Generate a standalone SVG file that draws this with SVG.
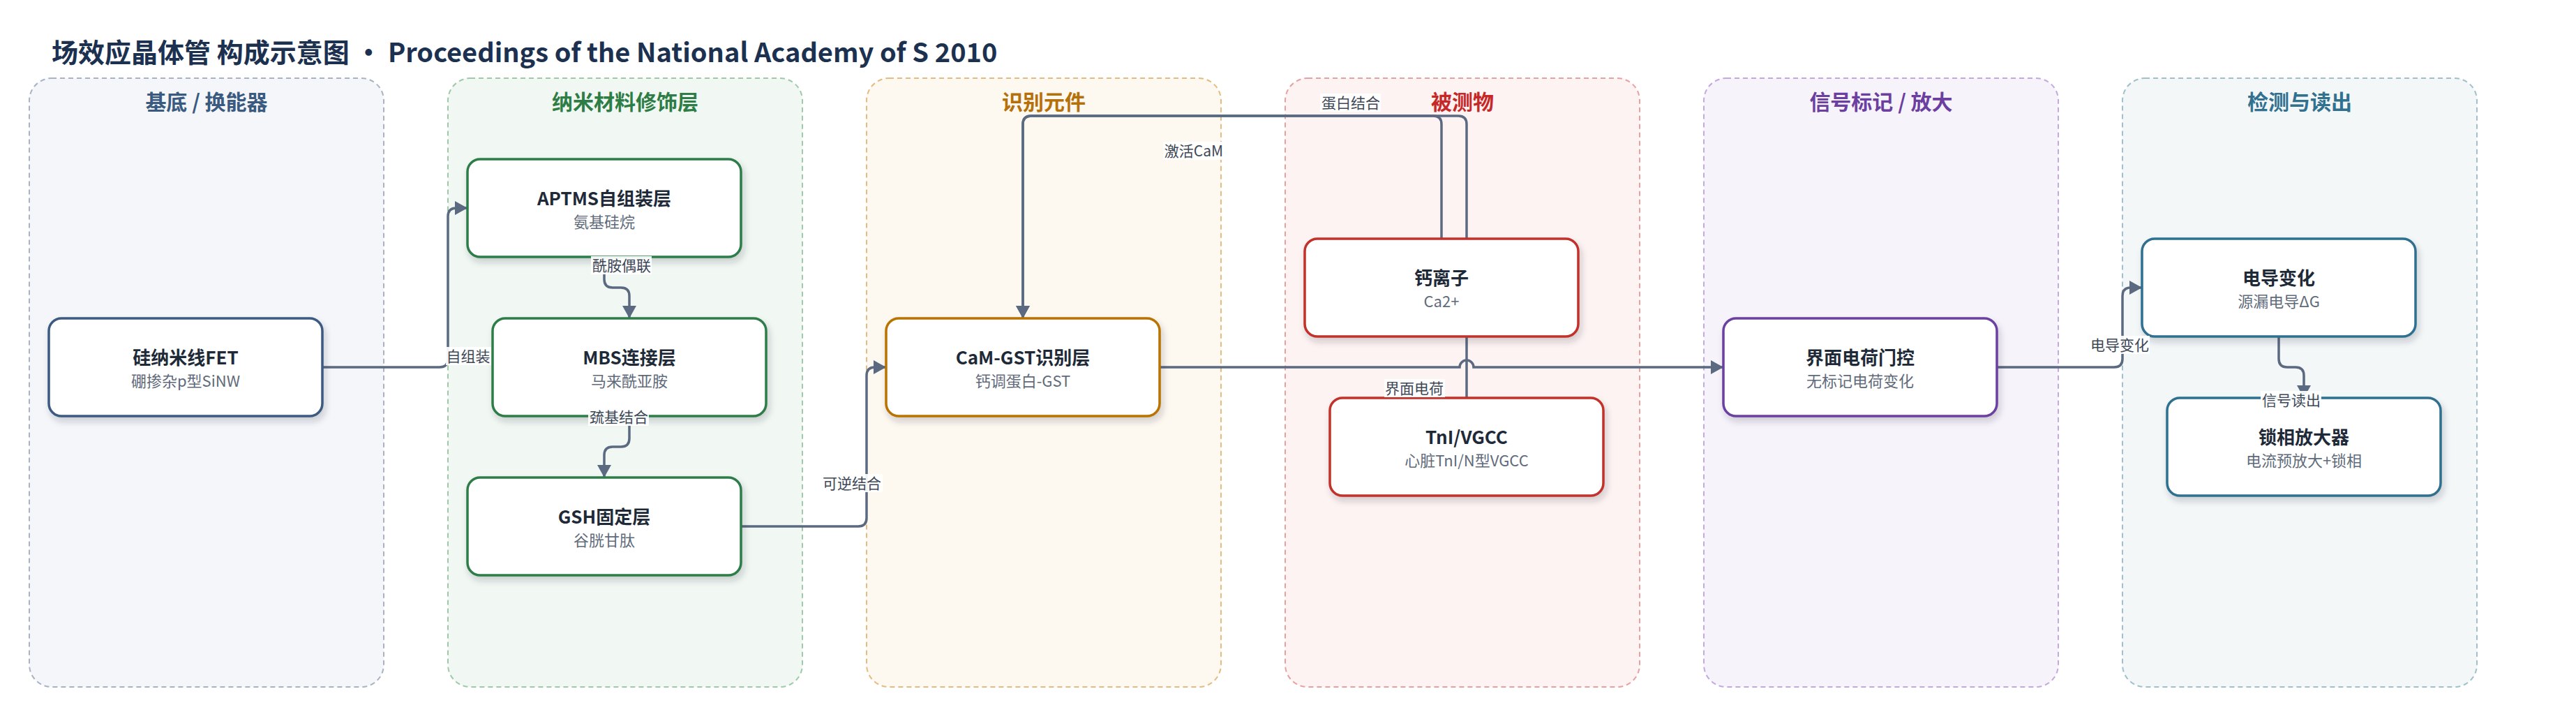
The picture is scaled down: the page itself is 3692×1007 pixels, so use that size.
<svg xmlns="http://www.w3.org/2000/svg" width="3692" height="1007" viewBox="0 0 3692 1007">
<style>
  text { font-family: "Noto Sans CJK SC", "Noto Sans", sans-serif; }
  .title { font-size: 38px; font-weight: 700; fill: #1c3150; }
  .lane { stroke-width: 2; stroke-dasharray: 7 5; }
  .lt { font-size: 30px; font-weight: 700; text-anchor: middle; }
  .node rect { fill: #ffffff; stroke-width: 3.5; filter: url(#sh); }
  .nt { font-size: 26px; font-weight: 700; fill: #1e2a38; text-anchor: middle; }
  .ns { font-size: 22px; fill: #5f6b7a; text-anchor: middle; }
  .edge { fill: none; stroke: #5b6a80; stroke-width: 3.5; }
  .arr { marker-end: url(#ah); }
  .lbg { fill: #ffffff; fill-opacity: 0.92; }
  .lbl { font-size: 21px; fill: #3d4756; text-anchor: middle; }
</style>
<defs>
  <filter id="sh" x="-10%" y="-15%" width="125%" height="140%">
    <feDropShadow dx="3" dy="6" stdDeviation="5" flood-color="#1e2a38" flood-opacity="0.2"/>
  </filter>
  <marker id="ah" markerUnits="userSpaceOnUse" markerWidth="20" markerHeight="22" refX="18" refY="10" orient="auto">
    <path d="M0,0 L18,10 L0,20 z" fill="#5b6a80"/>
  </marker>
</defs>
<rect width="3692" height="1007" fill="#ffffff"/>
<text class="title" x="74" y="89">场效应晶体管 构成示意图 · Proceedings of the National Academy of S 2010</text>

<g id="lanes">
  <g id="lane-substrate">
    <rect class="lane" x="42" y="112" width="508" height="872" rx="32" fill="#f4f6fa" stroke="#a8b4c4"/>
    <text class="lt" x="296" y="157" fill="#3a5a80">基底 / 换能器</text>
  </g>
  <g id="lane-nano">
    <rect class="lane" x="642" y="112" width="508" height="872" rx="32" fill="#f1f8f3" stroke="#9fcaa9"/>
    <text class="lt" x="896" y="157" fill="#2e7d46">纳米材料修饰层</text>
  </g>
  <g id="lane-recog">
    <rect class="lane" x="1242" y="112" width="508" height="872" rx="32" fill="#fdf8f0" stroke="#e4bb80"/>
    <text class="lt" x="1496" y="157" fill="#b5700a">识别元件</text>
  </g>
  <g id="lane-analyte">
    <rect class="lane" x="1842" y="112" width="508" height="872" rx="32" fill="#fdf3f2" stroke="#e7a2a0"/>
    <text class="lt" x="2096" y="157" fill="#c62828">被测物</text>
  </g>
  <g id="lane-signal">
    <rect class="lane" x="2442" y="112" width="508" height="872" rx="32" fill="#f7f3fb" stroke="#c4a8e0"/>
    <text class="lt" x="2696" y="157" fill="#6b3fa0">信号标记 / 放大</text>
  </g>
  <g id="lane-detect">
    <rect class="lane" x="3042" y="112" width="508" height="872" rx="32" fill="#f3f7f8" stroke="#9fc0cc"/>
    <text class="lt" x="3296" y="157" fill="#31718f">检测与读出</text>
  </g>
</g>

<g id="connectors">
  <path class="edge arr" d="M462,526 H630 Q642,526 642,514 V310 Q642,298 654,298 H670"/>
  <path class="edge arr" d="M866,368 V400 Q866,412 878,412 H890 Q902,412 902,424 V456"/>
  <path class="edge arr" d="M902,596 V628 Q902,640 890,640 H878 Q866,640 866,652 V684"/>
  <path class="edge arr" d="M1062,754 H1230 Q1242,754 1242,742 V538 Q1242,526 1254,526 H1270"/>
  <path class="edge arr" d="M2066,342 V178 Q2066,166 2054,166 H1478 Q1466,166 1466,178 V456"/>
  <path class="edge arr" d="M2102,570 V178 Q2102,166 2090,166 H1478 Q1466,166 1466,178 V456"/>
  <path class="edge arr" d="M1662,526 H2092 A10,10 0 0 1 2112,526 H2470"/>
  <path class="edge arr" d="M2862,526 H3030 Q3042,526 3042,514 V424 Q3042,412 3054,412 H3070"/>
  <path class="edge arr" d="M3266,482 V514 Q3266,526 3278,526 H3290 Q3302,526 3302,538 V570"/>
</g>

<g id="nodes">
  <g id="n-fet" class="node">
    <rect x="70" y="456" width="392" height="140" rx="18" stroke="#3d5a80"/>
    <text class="nt" x="266" y="522">硅纳米线FET</text>
    <text class="ns" x="266" y="554">硼掺杂p型SiNW</text>
  </g>
  <g id="n-aptms" class="node">
    <rect x="670" y="228" width="392" height="140" rx="18" stroke="#2e7d4a"/>
    <text class="nt" x="866" y="294">APTMS自组装层</text>
    <text class="ns" x="866" y="326">氨基硅烷</text>
  </g>
  <g id="n-mbs" class="node">
    <rect x="706" y="456" width="392" height="140" rx="18" stroke="#2e7d4a"/>
    <text class="nt" x="902" y="522">MBS连接层</text>
    <text class="ns" x="902" y="554">马来酰亚胺</text>
  </g>
  <g id="n-gsh" class="node">
    <rect x="670" y="684" width="392" height="140" rx="18" stroke="#2e7d4a"/>
    <text class="nt" x="866" y="750">GSH固定层</text>
    <text class="ns" x="866" y="782">谷胱甘肽</text>
  </g>
  <g id="n-cam" class="node">
    <rect x="1270" y="456" width="392" height="140" rx="18" stroke="#b87300"/>
    <text class="nt" x="1466" y="522">CaM-GST识别层</text>
    <text class="ns" x="1466" y="554">钙调蛋白-GST</text>
  </g>
  <g id="n-ca" class="node">
    <rect x="1870" y="342" width="392" height="140" rx="18" stroke="#c0302a"/>
    <text class="nt" x="2066" y="408">钙离子</text>
    <text class="ns" x="2066" y="440">Ca2+</text>
  </g>
  <g id="n-tni" class="node">
    <rect x="1906" y="570" width="392" height="140" rx="18" stroke="#c0302a"/>
    <text class="nt" x="2102" y="636">TnI/VGCC</text>
    <text class="ns" x="2102" y="668">心脏TnI/N型VGCC</text>
  </g>
  <g id="n-gate" class="node">
    <rect x="2470" y="456" width="392" height="140" rx="18" stroke="#6b3fa0"/>
    <text class="nt" x="2666" y="522">界面电荷门控</text>
    <text class="ns" x="2666" y="554">无标记电荷变化</text>
  </g>
  <g id="n-cond" class="node">
    <rect x="3070" y="342" width="392" height="140" rx="18" stroke="#2f6f8f"/>
    <text class="nt" x="3266" y="408">电导变化</text>
    <text class="ns" x="3266" y="440">源漏电导ΔG</text>
  </g>
  <g id="n-lockin" class="node">
    <rect x="3106" y="570" width="392" height="140" rx="18" stroke="#2f6f8f"/>
    <text class="nt" x="3302" y="636">锁相放大器</text>
    <text class="ns" x="3302" y="668">电流预放大+锁相</text>
  </g>
</g>

<g id="edge-labels">
  <rect class="lbg" x="639" y="497" width="65" height="26"/>
  <text class="lbl" x="671" y="518">自组装</text>
  <rect class="lbg" x="847" y="367" width="87" height="26"/>
  <text class="lbl" x="891" y="388">酰胺偶联</text>
  <rect class="lbg" x="843" y="584" width="87" height="26"/>
  <text class="lbl" x="887" y="605">巯基结合</text>
  <rect class="lbg" x="1178" y="679" width="87" height="26"/>
  <text class="lbl" x="1221" y="700">可逆结合</text>
  <rect class="lbg" x="1667" y="203" width="88" height="26"/>
  <text class="lbl" x="1711" y="224">激活CaM</text>
  <rect class="lbg" x="1892" y="134" width="87" height="26"/>
  <text class="lbl" x="1936" y="155">蛋白结合</text>
  <rect class="lbg" x="1984" y="543" width="87" height="26"/>
  <text class="lbl" x="2027" y="564">界面电荷</text>
  <rect class="lbg" x="2995" y="481" width="86" height="26"/>
  <text class="lbl" x="3038" y="502">电导变化</text>
  <rect class="lbg" x="3240" y="560" width="87" height="26"/>
  <text class="lbl" x="3284" y="581">信号读出</text>
</g>
</svg>
